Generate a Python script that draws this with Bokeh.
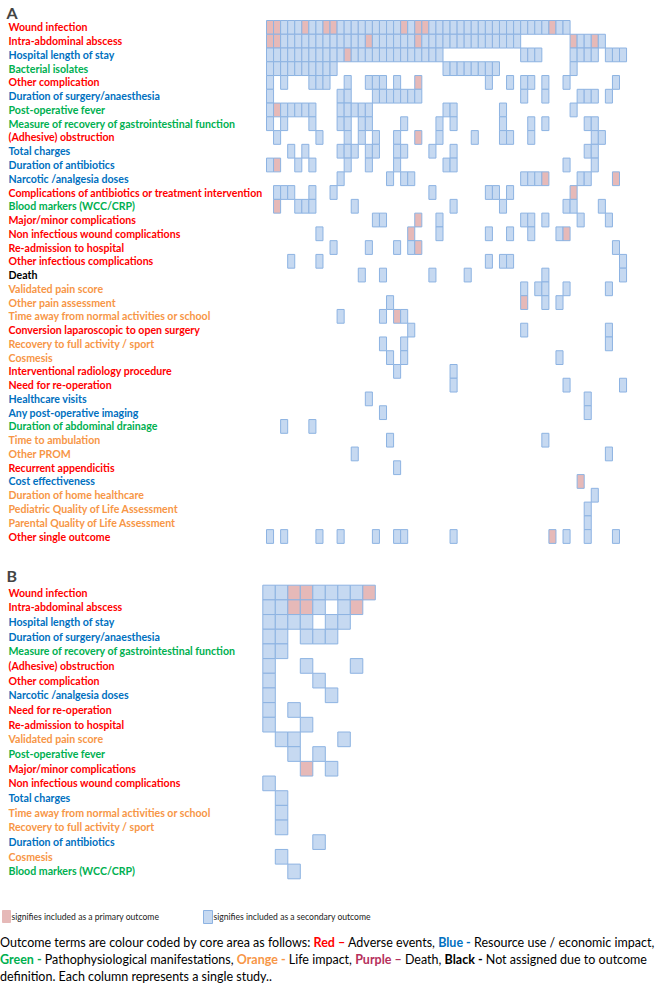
from bokeh.plotting import figure
from bokeh.models import Range1d, ColumnDataSource, Div, Label
from bokeh.layouts import column
from bokeh.embed import file_html
from bokeh.resources import INLINE
from bokeh.core.properties import value

# ---------------- data ----------------
OUTCOMES_A = [
    "Wound infection", "Intra-abdominal abscess", "Hospital length of stay", "Bacterial isolates",
    "Other complication", "Duration of surgery/anaesthesia", "Post-operative fever",
    "Measure of recovery of gastrointestinal function", "(Adhesive) obstruction", "Total charges",
    "Duration of antibiotics", "Narcotic /analgesia doses",
    "Complications of antibiotics or treatment intervention", "Blood markers (WCC/CRP)",
    "Major/minor complications", "Non infectious wound complications", "Re-admission to hospital",
    "Other infectious complications", "Death", "Validated pain score", "Other pain assessment",
    "Time away from normal activities or school", "Conversion laparoscopic to open surgery",
    "Recovery to full activity / sport", "Cosmesis", "Interventional radiology procedure",
    "Need for re-operation", "Healthcare visits", "Any post-operative imaging",
    "Duration of abdominal drainage", "Time to ambulation", "Other PROM", "Recurrent appendicitis",
    "Cost effectiveness", "Duration of home healthcare", "Pediatric Quality of Life Assessment",
    "Parental Quality of Life Assessment", "Other single outcome",
]
CORE_A = ["red", "red", "blue", "green", "red", "blue", "green", "green", "red", "blue",
          "blue", "blue", "red", "green", "red", "red", "red", "red", "black", "orange",
          "orange", "orange", "red", "orange", "orange", "red", "red", "blue", "blue", "green",
          "orange", "orange", "red", "blue", "orange", "orange", "orange", "red"]

# one string per outcome, one character per study: s = secondary, p = primary, . = not used
MATRIX_A = [
    "ppssspsspp" "sssssssssp" "sppsssssss" "ssssssssss" "pss......." ".",
    "ppssssssss" "sssspsssss" "spssssssss" "ssssss...." "...pssps.." ".",
    "ssssssssss" "spssssssss" "sssss....." "......sss." "...ssss.ss" "s",
    "ssssssssss" ".........." ".....sssss" "sss......." "...s......" ".",
    "s.s...sss." ".s..sss.s." ".p........" ".s..s.ss.s" "..s......s" ".",
    "s........." "ss...sssss" "ss........" "......s..s" "....sss.s." ".",
    "spsssss..." "sssss....." ".....ss..." "...s......" "...s......" ".",
    "s.s...s..." "ss.ss....s" "....s.s..." "...s...s.s" ".....ss..." ".",
    ".s.....s.." ".s.s.s..s." ".p..s....s" "...ss..s.." "......ss.." ".",
    "...s.s...." "sss.ss..ss" "...s..s..." ".........." ".....ss..." ".",
    "sp..s.s..." ".s..s...s." ".....ss..." ".........." "..s...s..." ".",
    ".........." "s......s.s" "s........." "......sssp" "....ss...p" ".",
    ".sss..s..s" ".........." "...s......" ".ss.s....." "...p......" ".",
    ".p..sss..." "..s......." "......s..." "...s......" "..ss...s.." ".",
    ".........." ".....ss..." ".p..s....." "......ss.s" "....s...s." ".",
    ".......s.." ".........." "p...s....." ".s..s..s.." ".sp......." ".",
    ".........s" "....s...s." "sp........" ".........." ".........s" ".",
    "...s...s.." ".........." ".........." ".s.ss....." ".........." "s",
    ".........." "...s..s..." "...s....s." ".........s" ".........." "s",
    ".........." ".........." ".........." "......s.ss" "..s.....s." ".",
    ".........." ".......s.." ".........." "......p..s" ".s........" ".",
    ".........." "s.....s.ps" ".........." ".........." ".........." ".",
    ".........." ".........." "s........." "......s..." "........s." ".",
    ".........." "......s..s" ".........." ".........." "........s." ".",
    ".........." ".......s.s" ".........." ".........." ".s........" ".",
    ".........." "........s." "......s..." ".........." ".........." ".",
    ".........." ".........." "......s..." ".........." "..s......." "s",
    ".........." "....s....." ".........." ".........." ".....s...." ".",
    ".........." "......s..." ".........." ".........." ".....s...." ".",
    "..s...s..." ".........." ".........." ".........." ".........." ".",
    ".........." ".......s.." ".........." ".........s" ".........." ".",
    ".........." "..s......." ".........." ".........." "........s." ".",
    ".........." "........s." ".........." ".........." ".........." ".",
    ".........." ".........." ".........." ".........." "....p....." ".",
    ".........." ".........." ".........." ".........." "......s..." ".",
    ".........." ".........." ".........." ".........." ".....s...." ".",
    ".........." ".........." ".........." ".........." ".....s...." ".",
    "s.s....s.." "s....s..ss" "......s..." ".........." "p.s..s...s" ".",
]

OUTCOMES_B = [
    "Wound infection", "Intra-abdominal abscess", "Hospital length of stay",
    "Duration of surgery/anaesthesia", "Measure of recovery of gastrointestinal function",
    "(Adhesive) obstruction", "Other complication", "Narcotic /analgesia doses",
    "Need for re-operation", "Re-admission to hospital", "Validated pain score",
    "Post-operative fever", "Major/minor complications", "Non infectious wound complications",
    "Total charges", "Time away from normal activities or school",
    "Recovery to full activity / sport", "Duration of antibiotics", "Cosmesis",
    "Blood markers (WCC/CRP)",
]
CORE_B = ["red", "red", "blue", "blue", "green", "red", "red", "blue", "red", "red",
          "orange", "green", "red", "red", "blue", "orange", "orange", "blue", "orange", "green"]
MATRIX_B = [
    "ssppssssp",
    "sspps.sp.",
    "ssss.ss..",
    "ss.sss...",
    "ss.......",
    "s..s...s.",
    "s...s....",
    "s....s...",
    "s.s......",
    "s..s.....",
    ".ss...s..",
    "..s.s....",
    "...p.s...",
    "s........",
    ".s.......",
    ".s.......",
    ".s.......",
    "....s....",
    ".s.......",
    "..s......",
]

# ---------------- styles ----------------
CORE_COLORS = {"red": "#ff0000", "blue": "#0070c0", "green": "#00b050",
               "orange": "#f79646", "black": "#000000"}
FILL = {"s": "#c6d9f1", "p": "#e6b9b8"}
EDGE = "#8db3e2"
LABEL_FONT = "Lato"
LABEL_SIZE = "10.6px"
W = 656


def cell_source(matrix):
    xs, ys, fills = [], [], []
    for r, row in enumerate(matrix):
        for c, ch in enumerate(row):
            if ch in FILL:
                xs.append(c)
                ys.append(r)
                fills.append(FILL[ch])
    return ColumnDataSource(dict(x=xs, y=ys, fill=fills))


def panel(outcomes, cores, matrix, x0, dx, y0, dy, top, bottom):
    # pixel geometry of the grid -> data ranges (one unit per study / outcome)
    xs = (0 - x0) / dx - 0.5
    xe = (W - x0) / dx - 0.5
    ys = (top - y0) / dy - 0.5
    ye = (bottom - y0) / dy - 0.5
    xlab = (8 - x0) / dx - 0.5
    h = int(round(bottom - top))
    p = figure(width=W, height=h, x_range=Range1d(xs, xe), y_range=Range1d(ye, ys),
               output_backend="svg", toolbar_location=None, min_border=0,
               x_axis_location=None, y_axis_location=None)
    p.grid.visible = False
    p.outline_line_color = None
    p.rect(x="x", y="y", width=1, height=1, fill_color="fill", line_color=EDGE,
           line_width=1, source=cell_source(matrix))
    lab = ColumnDataSource(dict(x=[xlab] * len(outcomes), y=list(range(len(outcomes))),
                                text=outcomes, color=[CORE_COLORS[c] for c in cores]))
    p.text(x="x", y="y", text="text", text_color="color", source=lab,
           text_font=value(LABEL_FONT), text_font_style="bold",
           text_font_size=LABEL_SIZE, text_baseline="middle", text_align="left")
    return p


pA = panel(OUTCOMES_A, CORE_A, MATRIX_A, 266.0, 7.06, 20.0, 13.76, 0, 560)
pA.add_layout(Label(x=6, y=560 - 2, x_units="screen", y_units="screen", text="A",
                    text_font=LABEL_FONT, text_font_style="bold",
                    text_font_size="16px", text_baseline="top"))
pB = panel(OUTCOMES_B, CORE_B, MATRIX_B, 262.3, 12.5, 584.7, 14.68, 560, 893)
pB.add_layout(Label(x=6, y=333 - 5, x_units="screen", y_units="screen", text="B",
                    text_font=LABEL_FONT, text_font_style="bold",
                    text_font_size="16px", text_baseline="top"))

# legend strip
pL = figure(width=W, height=35, x_range=Range1d(0, W), y_range=Range1d(928, 893),
            output_backend="svg", toolbar_location=None, min_border=0,
            x_axis_location=None, y_axis_location=None)
pL.grid.visible = False
pL.outline_line_color = None
pL.quad(left=[2, 203], right=[10, 212], top=[910, 910], bottom=[922, 923],
        fill_color=[FILL["p"], FILL["s"]], line_color=[FILL["p"], EDGE], line_width=1)
pL.text(x=[11, 213], y=[916.5, 916.5],
        text=["signifies included as a primary outcome",
              "signifies included as a  secondary outcome"],
        text_font=value(LABEL_FONT), text_font_size="8.6px", text_color="#222222",
        text_baseline="middle")

NOTE = (
    '<div style="font-family:Lato;font-size:12.5px;line-height:17px;color:#000;'
    'white-space:nowrap;padding-top:6px">'
    'Outcome terms are colour coded by core area as follows: '
    '<b style="color:#ff0000">Red \u2013</b> Adverse events, '
    '<b style="color:#0070c0">Blue -</b> Resource use / economic impact,<br>'
    '<b style="color:#00b050">Green -</b> Pathophysiological manifestations, '
    '<b style="color:#f79646">Orange -</b> Life impact, '
    '<b style="color:#b5305c">Purple \u2013</b> Death, '
    '<b>Black -</b> Not assigned due to outcome<br>'
    'definition. Each column represents a single study..'
    '</div>'
)
note = Div(text=NOTE, width=W, height=48, margin=(0, 0, 0, 0))

layout = column(pA, pB, pL, note, spacing=0)
open("out.html", "w").write(file_html(layout, INLINE))
